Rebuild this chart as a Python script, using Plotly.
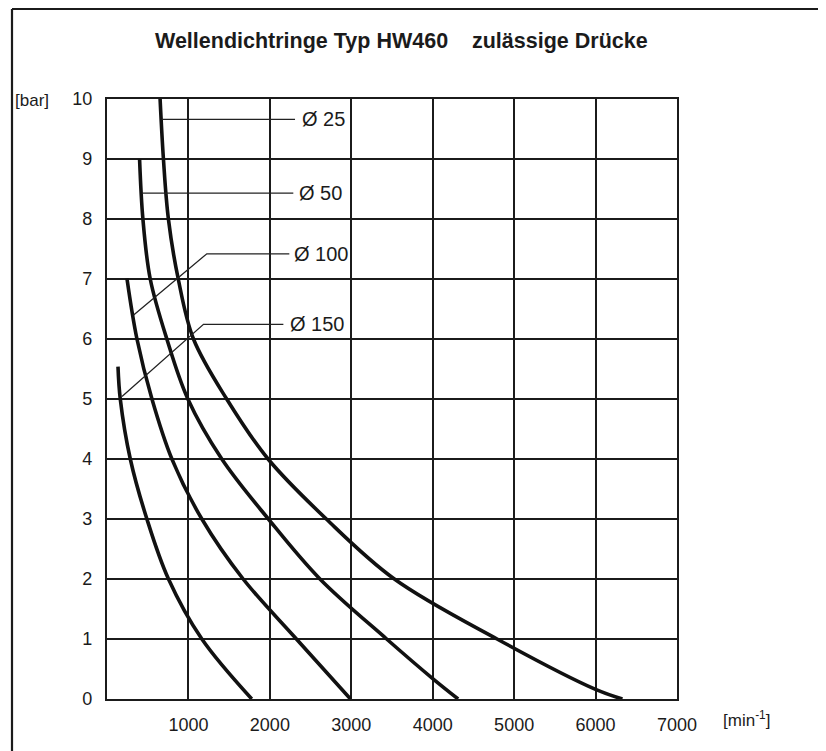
import plotly.graph_objects as go

# ---------------- data ----------------
x_ticks = [1000, 2000, 3000, 4000, 5000, 6000, 7000]
y_ticks = [0, 1, 2, 3, 4, 5, 6, 7, 8, 9, 10]

d25_x = [652, 693, 754, 875, 1062, 1470, 1978, 2693, 3529, 4790, 6000, 6330]
d25_y = [10, 9, 8, 7, 6, 5, 4, 3, 2, 1, 0.16, 0]

d50_x = [400, 441, 531, 735, 993, 1410, 1982, 2615, 3434, 4000, 4312]
d50_y = [9, 8, 7, 6, 5, 4, 3, 2, 1, 0.34, 0]

d100_x = [245, 368, 552, 797, 1165, 1672, 2326, 2990]
d100_y = [7.01, 6, 5, 4, 3, 2, 1, 0]

d150_x = [135, 163, 286, 490, 755, 1165, 1778]
d150_y = [5.54, 5, 4, 3, 2, 1, 0]

labels = ["Ø 25", "Ø 50", "Ø 100", "Ø 150"]
leader_x = [[673, 2309], [428, 2288], [327, 1226, 2239], [184, 1185, 2166]]
leader_y = [[9.66, 9.66], [8.43, 8.43], [6.4, 7.42, 7.42], [5.04, 6.245, 6.245]]
label_x = [2370, 2334, 2269, 2220]

title_text = "Wellendichtringe Typ HW460\u00a0\u00a0\u00a0\u00a0zulässige Drücke"

# ---------------- layout constants ----------------
OFF = 8                      # page body margin
W, H = 826 - OFF, 751 - OFF
L, R, T, B = 107 - OFF, 677 - OFF, 99 - OFF, 699 - OFF
FONT = "Liberation Sans, Arial, Helvetica, sans-serif"
INK = "#1b1b1b"


def px_x(p):
    return (p - OFF - L) / (R - L)


def px_y(p):
    return (B - (p - OFF)) / (B - T)


fig = go.Figure()

curve_style = dict(color="#111111", width=3.6, shape="spline", smoothing=1.0)
for xs, ys, name in [(d25_x, d25_y, labels[0]), (d50_x, d50_y, labels[1]),
                     (d100_x, d100_y, labels[2]), (d150_x, d150_y, labels[3])]:
    fig.add_trace(go.Scatter(x=xs, y=ys, mode="lines", line=curve_style,
                             name=name, showlegend=False, hoverinfo="skip"))

for lx, ly in zip(leader_x, leader_y):
    fig.add_trace(go.Scatter(x=lx, y=ly, mode="lines",
                             line=dict(color="#222222", width=1.3),
                             showlegend=False, hoverinfo="skip"))

annotations = []
for lab, lx, ly in zip(labels, label_x, leader_y):
    annotations.append(dict(x=lx, y=ly[-1], xref="x", yref="y", text=lab,
                            showarrow=False, xanchor="left", yanchor="middle",
                            font=dict(family=FONT, size=20, color=INK)))

annotations.append(dict(x=px_x(401), y=px_y(41), xref="paper", yref="paper",
                        text="<b>" + title_text + "</b>", showarrow=False,
                        xanchor="center", yanchor="middle",
                        font=dict(family=FONT, size=21.5, color=INK)))

annotations.append(dict(x=px_x(13), y=px_y(101), xref="paper", yref="paper",
                        text="[bar]", showarrow=False, xanchor="left",
                        yanchor="middle",
                        font=dict(family=FONT, size=17, color=INK)))
annotations.append(dict(x=px_x(721), y=px_y(719), xref="paper", yref="paper",
                        text="[min<sup>-1</sup>]", showarrow=False,
                        xanchor="left", yanchor="middle",
                        font=dict(family=FONT, size=17, color=INK)))

shapes = [
    dict(type="line", xref="paper", yref="paper", x0=px_x(12), x1=px_x(12),
         y0=px_y(9), y1=px_y(760), line=dict(color=INK, width=2.2)),
    dict(type="line", xref="paper", yref="paper", x0=px_x(12), x1=px_x(840),
         y0=px_y(9), y1=px_y(9), line=dict(color=INK, width=2.2)),
]

fig.update_layout(
    width=W, height=H,
    margin=dict(l=L, r=W - R, t=T, b=H - B, autoexpand=False),
    paper_bgcolor="white", plot_bgcolor="white",
    annotations=annotations, shapes=shapes,
    showlegend=False,
)

fig.update_xaxes(range=[0, 7000], tickvals=x_ticks,
                 ticktext=[str(v) for v in x_ticks],
                 showgrid=True, gridcolor=INK, gridwidth=2,
                 showline=True, linecolor=INK, linewidth=2.2, mirror=True,
                 zeroline=False, ticks="", ticklabelstandoff=8,
                 tickfont=dict(family=FONT, size=18, color=INK),
                 fixedrange=True)
fig.update_yaxes(range=[0, 10], tickvals=y_ticks,
                 ticktext=[str(v) for v in y_ticks],
                 showgrid=True, gridcolor=INK, gridwidth=2,
                 showline=True, linecolor=INK, linewidth=2.2, mirror=True,
                 zeroline=False, ticks="", ticklabelstandoff=9,
                 tickfont=dict(family=FONT, size=18, color=INK),
                 fixedrange=True)

fig.write_html("out.html")
